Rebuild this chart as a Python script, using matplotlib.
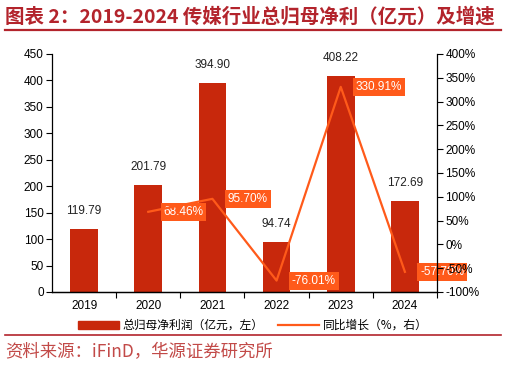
import numpy as np
import matplotlib
matplotlib.use('Agg')
import matplotlib.pyplot as plt
from matplotlib.lines import Line2D
from matplotlib.patches import Patch

plt.rcParams['font.family'] = ['Liberation Sans', 'Noto Sans CJK SC', 'DejaVu Sans']

# Données
annees = ['2019', '2020', '2021', '2022', '2023', '2024']
benefice = [119.79, 201.79, 394.90, 94.74, 408.22, 172.69]
croissance = [None, 68.46, 95.70, -76.01, 330.91, -57.70]

couleur_barre = '#C8280C'
couleur_ligne = '#FF5A1A'
couleur_titre = '#B3242C'
cjk = ['Noto Sans CJK SC', 'DejaVu Sans']

fig = plt.figure(figsize=(5.06, 3.69), dpi=100)
ax = fig.add_axes([0.1028, 0.2087, 0.7608, 0.645])
ax2 = ax.twinx()

x = np.arange(len(annees))
ax.bar(x, benefice, width=0.43, color=couleur_barre, zorder=2)
for xi, v in zip(x, benefice):
    ax.annotate(f'{v:.2f}', (xi, v), xytext=(0, 13), textcoords='offset points',
                ha='center', va='center', fontsize=8.5, color='#222222')

ax.set_xlim(-0.5, 5.5)
ax.set_ylim(0, 450)
ax.set_yticks(np.arange(0, 451, 50))
ax.set_xticks(x)
ax.set_xticklabels(annees)
ax.set_xticks(np.arange(0.5, 5.6, 1), minor=True)
ax.tick_params(axis='x', which='major', length=0, pad=6, labelsize=8.5)
ax.tick_params(axis='x', which='minor', length=4, width=0.8)
ax.tick_params(axis='y', length=4, width=0.8, labelsize=8.5, pad=2)
ax.spines['top'].set_visible(False)
ax.spines['right'].set_visible(False)

# Courbe de croissance
xs = [xi for xi, c in zip(x, croissance) if c is not None]
ys = [c for c in croissance if c is not None]
ax2.plot(xs, ys, color=couleur_ligne, lw=1.6, zorder=3)
for xi, c in zip(xs, ys):
    ax2.annotate(f'{c:.2f}%', (xi, c), xytext=(11, 0), textcoords='offset points',
                 ha='left', va='center', fontsize=8.5, color='white', zorder=1,
                 bbox=dict(boxstyle='square,pad=0.25', fc=couleur_ligne, ec='none'),
                 annotation_clip=False)
ax2.set_ylim(-100, 400)
ax2.set_yticks(np.arange(-100, 401, 50))
ax2.set_yticklabels([f'{v}%' for v in range(-100, 401, 50)])
ax2.tick_params(axis='y', length=4, width=0.8, labelsize=8.5, pad=2)
ax2.spines['top'].set_visible(False)
ax2.spines['left'].set_visible(False)
for a in (ax, ax2):
    for s in a.spines.values():
        s.set_linewidth(0.9)

# Légende
handles = [Patch(color=couleur_barre), Line2D([0], [0], color=couleur_ligne, lw=1.6)]
labels = ['总归母净利润（亿元，左）', '同比增长（%，右）']
leg = fig.legend(handles, labels, loc='center', bbox_to_anchor=(0.5, 0.118), ncol=2,
                 frameon=False, prop={'family': cjk, 'size': 8.5}, handlelength=3.5,
                 handleheight=0.6, columnspacing=1.2, handletextpad=0.3)

# Titre et source
fig.text(0.01, 0.955, '图表 2：2019-2024 传媒行业总归母净利（亿元）及增速', fontsize=14,
         fontweight='bold', color=couleur_titre, family=cjk, va='center', ha='left')
fig.add_artist(Line2D([0.01, 0.99], [0.918, 0.918], color=couleur_titre, lw=1.6))
fig.add_artist(Line2D([0.01, 0.99], [0.092, 0.092], color=couleur_titre, lw=1.2))
fig.text(0.01, 0.045, '资料来源：iFinD，华源证券研究所', fontsize=12.5, color='#C24A48',
         family=cjk, fontweight='light', va='center', ha='left')

fig.savefig('out.png', dpi=100)
plt.close(fig)
